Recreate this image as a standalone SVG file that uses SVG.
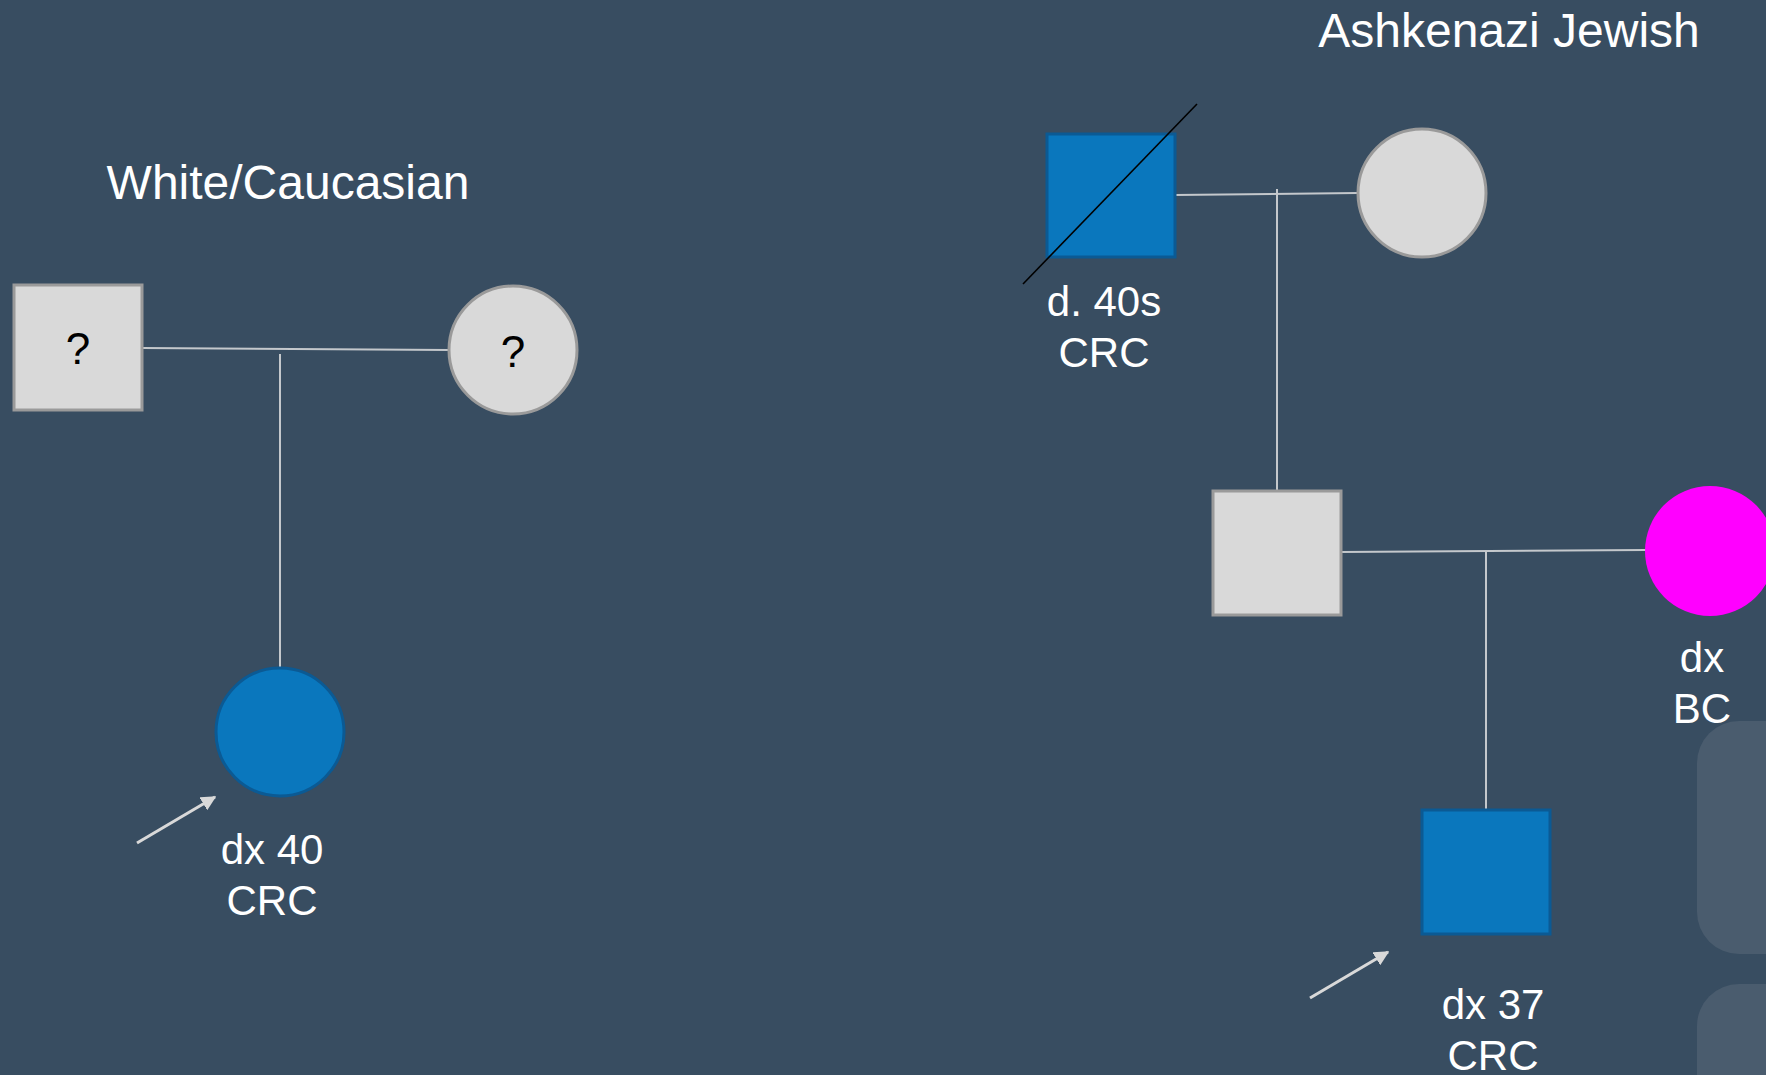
<svg xmlns="http://www.w3.org/2000/svg" width="1766" height="1075" viewBox="0 0 1766 1075">
<defs>
<style>
.bg{fill:#384d61}
.panel{fill:#4a5c6e}
.gray{fill:#d9d9d9;stroke:#9a9a9a;stroke-width:3}
.blue{fill:#0a77bd;stroke:#0b5a94;stroke-width:3}
.mag{fill:#ff00ff}
.ln{stroke:#c4c8cc;stroke-width:2;fill:none}
.ar{stroke:#d9d9d9;stroke-width:3;fill:none}
.t{font-family:"Liberation Sans",Arial,sans-serif;fill:#ffffff;text-anchor:middle}
.q{font-family:"Liberation Sans",Arial,sans-serif;fill:#000000;text-anchor:middle;font-size:44px}
</style>
<marker id="ah" viewBox="0 0 10 10" refX="9" refY="5" markerWidth="5" markerHeight="5" orient="auto" markerUnits="strokeWidth">
<path d="M0,0 L10,5 L0,10 Z" fill="#d9d9d9"/>
</marker>
</defs>
<rect class="bg" x="0" y="0" width="1766" height="1075"/>
<rect class="panel" x="1697" y="721" width="120" height="233" rx="42"/>
<rect class="panel" x="1697" y="984" width="120" height="140" rx="42"/>

<text class="t" x="288" y="199" font-size="48">White/Caucasian</text>
<text class="t" x="1509" y="47" font-size="48">Ashkenazi Jewish</text>

<g id="connectors">
<line class="ln" x1="142" y1="348" x2="449" y2="350"/>
<line class="ln" x1="280" y1="354" x2="280" y2="668"/>
<line class="ln" x1="1175" y1="195" x2="1358" y2="193"/>
<line class="ln" x1="1277" y1="189" x2="1277" y2="491"/>
<line class="ln" x1="1341" y1="552" x2="1646" y2="550"/>
<line class="ln" x1="1486" y1="552" x2="1486" y2="809"/>
<line class="ar" x1="137" y1="843" x2="215" y2="797" marker-end="url(#ah)"/>
<line class="ar" x1="1310" y1="998" x2="1388" y2="952" marker-end="url(#ah)"/>
</g>

<g id="n_wc_father">
<rect class="gray" x="14" y="285" width="128" height="125"/>
<text class="q" x="78" y="364">?</text>
</g>
<g id="n_wc_mother">
<circle class="gray" cx="513" cy="350" r="64"/>
<text class="q" x="513" y="367">?</text>
</g>
<g id="n_proband1">
<circle class="blue" cx="280" cy="732" r="64"/>
<text class="t" x="272" y="864" font-size="42">dx 40</text>
<text class="t" x="272" y="915" font-size="42">CRC</text>
</g>

<g id="n_aj_grandfather">
<rect class="blue" x="1047" y="134" width="128" height="123"/>
<line x1="1023" y1="284" x2="1197" y2="104" stroke="#000" stroke-width="1.6"/>
<text class="t" x="1104" y="316" font-size="42">d. 40s</text>
<text class="t" x="1104" y="367" font-size="42">CRC</text>
</g>
<g id="n_aj_grandmother">
<circle class="gray" cx="1422" cy="193" r="64"/>
</g>
<g id="n_father">
<rect class="gray" x="1213" y="491" width="128" height="124"/>
</g>
<g id="n_mother">
<circle class="mag" cx="1710" cy="551" r="65"/>
<text class="t" x="1702" y="672" font-size="42">dx</text>
<text class="t" x="1702" y="723" font-size="42">BC</text>
</g>
<g id="n_proband2">
<rect class="blue" x="1422" y="810" width="128" height="124"/>
<text class="t" x="1493" y="1019" font-size="42">dx 37</text>
<text class="t" x="1493" y="1070" font-size="42">CRC</text>
</g>
</svg>
